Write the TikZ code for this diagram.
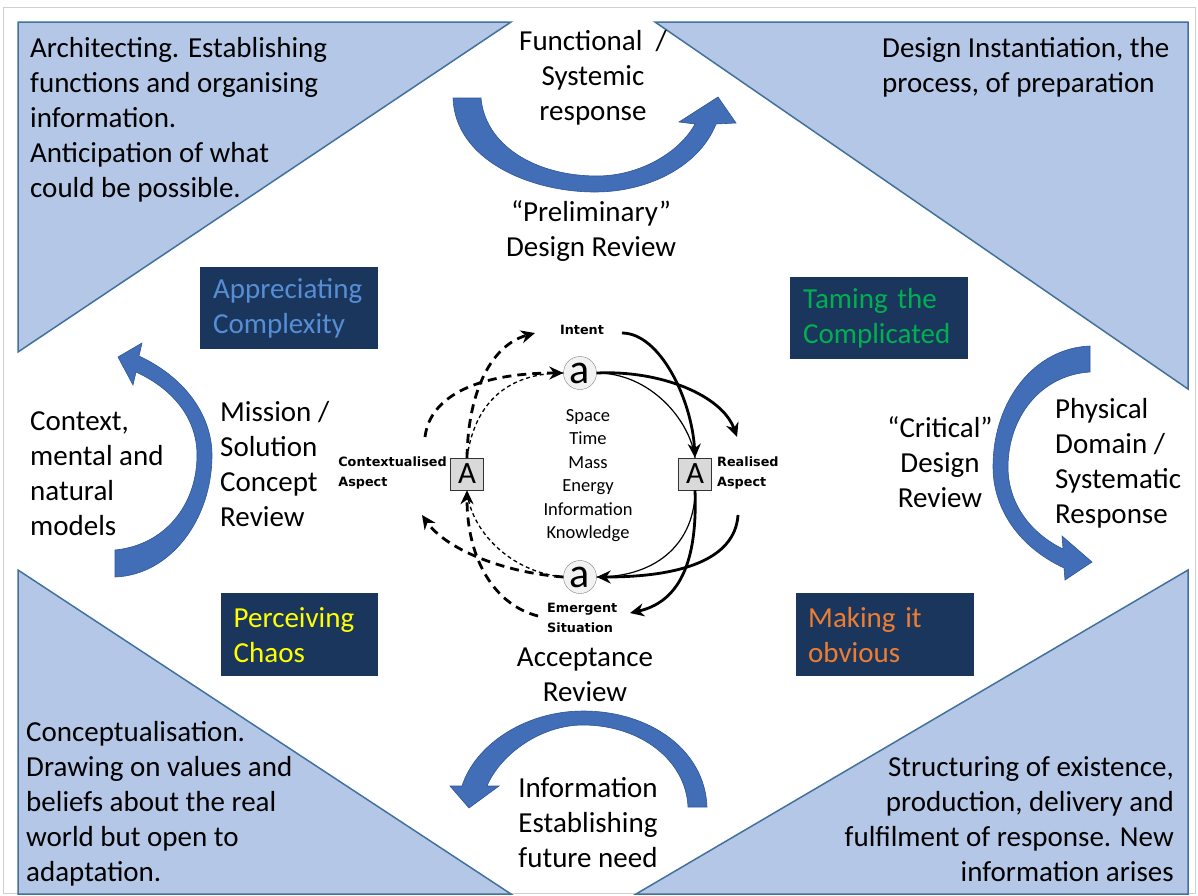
\documentclass[tikz,border=0pt]{standalone}
\usepackage{fontspec}
\setmainfont{Carlito}
\newfontfamily\tagfont{DejaVu Sans}
\usetikzlibrary{arrows.meta}

\definecolor{cornerfill}{HTML}{B4C7E7}
\definecolor{cornerline}{HTML}{41719C}
\definecolor{bigblue}{HTML}{416EB6}
\definecolor{bigblueline}{HTML}{2F5597}
\definecolor{boxnavy}{HTML}{1B365D}
\definecolor{ringfill}{HTML}{F2F2F2}
\definecolor{boxgray}{HTML}{D9D9D9}
\definecolor{framegray}{HTML}{D0D0D0}
\definecolor{complexblue}{HTML}{558ED5}
\definecolor{tamegreen}{HTML}{00B050}
\definecolor{chaosyellow}{HTML}{FFFF00}
\definecolor{obviousorange}{HTML}{ED7D31}

\begin{document}
\begin{tikzpicture}[x=1pt,y=-1pt,
  corner/.style={fill=cornerfill,draw=cornerline,line width=1.5pt},
  bigarrow/.style={fill=bigblue,draw=bigblueline,line width=0.6pt},
  body/.style={font=\fontsize{29}{35}\selectfont,inner sep=0pt},
  navybox/.style={fill=boxnavy,anchor=north west,minimum height=82pt,align=left,
    font=\fontsize{29}{35}\selectfont,inner ysep=0pt},
  tag/.style={font=\tagfont\bfseries\fontsize{12.8}{20}\selectfont,inner sep=0pt,align=left},
  qty/.style={font=\fontsize{18.5}{23.5}\selectfont,inner sep=0pt,anchor=base},
  smalla/.style={circle,draw=gray,fill=ringfill,minimum size=33pt,inner sep=0pt,
    font=\fontsize{42}{42}\selectfont},
  bigA/.style={rectangle,draw=black!80,fill=boxgray,minimum width=33pt,minimum height=32pt,
    inner sep=0pt,font=\fontsize{31}{31}\selectfont},
  flowfat/.style={line width=2.8pt,-{Stealth[length=14pt,width=13pt]}},
  flowthin/.style={line width=1.2pt},
  dashfat/.style={line width=2.8pt,dash pattern=on 9pt off 6pt,-{Stealth[length=14pt,width=13pt]}},
  dashthin/.style={line width=1.3pt,dash pattern=on 4pt off 3pt}]

  \useasboundingbox (0,0) rectangle (1198,895);

  % frame
  \draw[framegray,line width=1pt] (3.5,7.5) rectangle (1195,893.5);

  % corner triangles
  \draw[corner] (18,22) -- (511,22) -- (18,352) -- cycle;
  \draw[corner] (655,22) -- (1188,22) -- (1188,389) -- cycle;
  \draw[corner] (18,570) -- (511,894) -- (18,894) -- cycle;
  \draw[corner] (1188,570) -- (1188,894) -- (636,894) -- cycle;

  % big curved arrows
  \filldraw[bigarrow] (453,98) .. controls (455,160) and (530,192) .. (595,192)
    .. controls (650,192) and (700,165) .. (716,124) -- (736,123) -- (718,97) -- (679,122)
    -- (695,124) .. controls (680,152) and (640,176) .. (597,176)
    .. controls (535,176) and (485,145) .. (481,98) -- cycle;
  \filldraw[bigarrow] (1090,346) .. controls (1035,348) and (993,400) .. (993,467)
    .. controls (993,505) and (1015,545) .. (1064,568) -- (1065,580) -- (1092,562)
    -- (1062,536) -- (1063,549) .. controls (1030,533) and (1008,503) .. (1008,467)
    .. controls (1008,418) and (1040,375) .. (1090,372) -- cycle;
  \filldraw[bigarrow] (707,807) .. controls (705,750) and (650,711) .. (583,711)
    .. controls (525,711) and (475,745) .. (462,786) -- (450,786) -- (469,808) -- (499,786)
    -- (487,786) .. controls (500,755) and (540,725) .. (583,725)
    .. controls (640,725) and (686,760) .. (688,807) -- cycle;
  \filldraw[bigarrow] (139,356) .. controls (190,380) and (212,420) .. (212,455)
    .. controls (212,520) and (170,575) .. (115,577) -- (115,550)
    .. controls (165,545) and (197,505) .. (197,455)
    .. controls (197,420) and (175,390) .. (136,372) -- (133,385) -- (118,357) -- (142,343) -- cycle;

  % navy boxes
  \node[navybox,text=complexblue,minimum width=178pt,text width=152pt,inner xsep=13pt]
    (appreciate) at (200,267) {Appreciating\\Complexity};
  \node[navybox,text=tamegreen,minimum width=178pt,text width=152pt,inner xsep=13pt]
    (taming) at (790,277) {Taming the\\Complicated};
  \node[navybox,text=chaosyellow,minimum width=157pt,minimum height=83pt,text width=132pt,inner xsep=12.5pt]
    (chaos) at (221,593) {Perceiving\\Chaos};
  \node[navybox,text=obviousorange,minimum width=178pt,minimum height=83pt,text width=154pt,inner xsep=12pt]
    (obvious) at (796,593) {Making it\\obvious};

  % corner texts (placed at the baseline of the last line)
  \node[body,align=left,anchor=base west] (architect) at (30,197)
    {Architecting. Establishing\\functions and organising\\information.\\Anticipation of what\\could be possible.};
  \node[body,align=left,anchor=base west] (instant) at (882,92)
    {Design Instantiation, the\\process, of preparation};
  \node[body,align=left,anchor=base west] (conceptual) at (26,881)
    {Conceptualisation.\\Drawing on values and\\beliefs about the real\\world but open to\\adaptation.};
  \node[body,align=right,anchor=base east] (structuring) at (1174,881)
    {Structuring of existence,\\production, delivery and\\fulfilment of response. New\\information arises};

  % review texts
  \node[body,align=center,anchor=base] (funcresp) at (593,120) {Functional~ /\\Systemic\\response};
  \node[body,align=center,anchor=base] (prelim) at (591,256) {“Preliminary”\\Design Review};
  \node[body,align=left,anchor=base west] (context) at (30,535) {Context,\\mental and\\natural\\models};
  \node[body,align=left,anchor=base west] (mission) at (220,526) {Mission /\\Solution\\Concept\\Review};
  \node[body,align=center,anchor=base] (critical) at (940,507) {“Critical”\\Design\\Review};
  \node[body,align=left,anchor=base west] (physical) at (1055,523) {Physical\\Domain /\\Systematic\\Response};
  \node[body,align=center,anchor=base] (accept) at (585,701) {Acceptance\\Review};
  \node[body,align=center,anchor=base] (infoneed) at (588,867) {Information\\Establishing\\future need};

  % centre of the cycle
  \foreach \qq [count=\ii] in {Space,Time,Mass,Energy,Information,Knowledge}
  {
       \node[qty] (qty\ii) at (588,{397.5+23.5*\ii}) {\qq};
  }

  \node[smalla] (atop) at (580,373) {a};
  \node[smalla] (abot) at (580,577) {a};
  \node[bigA] (actx) at (467,474) {A};
  \node[bigA] (areal) at (695,474) {A};

  \node[tag] (intent) at (582,330) {Intent};
  \node[tag,anchor=east] (ctxlabel) at (447,473) {Contextualised\\Aspect};
  \node[tag,anchor=west] (reallabel) at (717,473) {Realised\\Aspect};
  \node[tag,anchor=west] (emerglabel) at (547,618) {Emergent\\Situation};

  % free ends of the cycle arrows
  \coordinate (intentout) at (622,333);
  \coordinate (realtip) at (737,437);
  \coordinate (realtail) at (738,515);
  \coordinate (emergtip) at (630,613);
  \coordinate (ctxtail) at (425,437);
  \coordinate (intenttip) at (535,333);
  \coordinate (ctxtip) at (422,515);
  \coordinate (emergtail) at (538,616);

  % solid arrows, right half
  \draw[flowthin] (atop.east) .. controls (650,373) and (690,420) .. (areal.north);
  \draw[flowfat] (intentout) .. controls (660,333) and (692,400) .. (areal.north);
  \draw[flowfat] (atop.east) .. controls (660,370) and (722,395) .. (realtip);
  \draw[flowthin] (areal.south) .. controls (695,540) and (660,577) .. (abot.east);
  \draw[flowfat] (areal.south) .. controls (697,545) and (688,600) .. (emergtip);
  \draw[flowfat] (realtail) .. controls (735,560) and (680,577) .. (abot.east);

  % dashed arrows, left half
  \draw[dashthin] (actx.north) .. controls (475,400) and (510,373) .. (atop.west);
  \draw[dashfat] (actx.north) .. controls (468,390) and (492,345) .. (intenttip);
  \draw[dashfat] (ctxtail) .. controls (430,395) and (480,373) .. (atop.west);
  \draw[dashthin] (abot.west) .. controls (510,572) and (470,530) .. (actx.south);
  \draw[dashfat] (abot.west) .. controls (500,572) and (445,548) .. (ctxtip);
  \draw[dashfat] (emergtail) .. controls (495,605) and (467,560) .. (actx.south);

\end{tikzpicture}
\end{document}
